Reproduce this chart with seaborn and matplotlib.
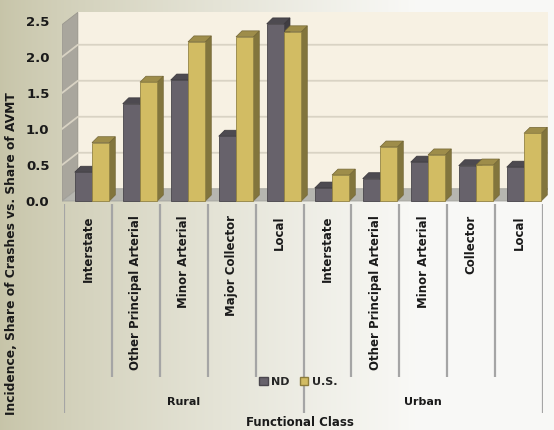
import numpy as np
import pandas as pd
import matplotlib
matplotlib.use("Agg")
import matplotlib.pyplot as plt
import seaborn as sns
from matplotlib.patches import Polygon, Patch

# data
classes = ["Interstate", "Other Principal Arterial", "Minor Arterial", "Major Collector", "Local",
           "Interstate", "Other Principal Arterial", "Minor Arterial", "Collector", "Local"]
areas = ["Rural"] * 5 + ["Urban"] * 5
nd_values = [0.40, 1.35, 1.68, 0.90, 2.46, 0.18, 0.31, 0.54, 0.49, 0.47]
us_values = [0.81, 1.65, 2.21, 2.28, 2.35, 0.36, 0.75, 0.64, 0.50, 0.94]
series = ["ND", "U.S."]
y_ticks = [0.0, 0.5, 1.0, 1.5, 2.0, 2.5]

slots = [f"{a} {c}" for a, c in zip(areas, classes)]
df = pd.DataFrame({
    "slot": slots * 2,
    "series": ["ND"] * 10 + ["U.S."] * 10,
    "value": nd_values + us_values,
})

sns.set_style("white")
plt.rcParams["font.family"] = ["DejaVu Sans"]
plt.rcParams["font.weight"] = "bold"

front = {"ND": "#67626b", "U.S.": "#d2bc63"}
edge = {"ND": "#4a464d", "U.S.": "#8c7c3c"}
txt = "#1a1a1a"

W, H = 554, 430
fig = plt.figure(figsize=(W / 100, H / 100), dpi=100)

# background gradient
bg = fig.add_axes([0, 0, 1, 1], zorder=-5)
xs = np.linspace(0, 1, 400)
t = np.clip(xs / 0.75, 0, 1) ** 0.8
left_c = np.array([0.78, 0.77, 0.66])
right_c = np.array([0.975, 0.975, 0.965])
grad = left_c[None, :] * (1 - t[:, None]) + right_c[None, :] * t[:, None]
bg.imshow(grad[None, :, :], aspect="auto", extent=[0, 1, 0, 1])
bg.axis("off")

# main plot area
ylo, yhi = -0.04, 2.62
xl, xr = -0.625, 9.5
ax = fig.add_axes([62 / W, (H - 201 - 0.04 * 72) / H, 486 / W, (yhi - ylo) * 72 / H])
ax.patch.set_alpha(0)

sns.barplot(data=df, x="slot", y="value", hue="series", order=slots, hue_order=series,
            palette=front, width=0.72, saturation=1, linewidth=0.6,
            legend=False, ax=ax, zorder=3)

# fake 3d depth on each bar
dx, dy = 0.125, 0.083
for p in list(ax.patches):
    x0, w, h = p.get_x(), p.get_width(), p.get_height()
    fc = np.array(p.get_facecolor()[:3])
    p.set_edgecolor(fc * 0.7)
    side = Polygon([(x0 + w, 0), (x0 + w + dx, dy), (x0 + w + dx, h + dy), (x0 + w, h)],
                   closed=True, fc=fc * 0.62, ec=fc * 0.55, lw=0.5, zorder=2.9)
    top = Polygon([(x0, h), (x0 + dx, h + dy), (x0 + w + dx, h + dy), (x0 + w, h)],
                  closed=True, fc=fc * 0.75, ec=fc * 0.55, lw=0.5, zorder=2.9)
    ax.add_patch(side)
    ax.add_patch(top)

# walls and floor
dxw, dyw = 0.33, 0.17
ax.add_patch(Polygon([(xl + dxw, dyw), (xr, dyw), (xr, yhi), (xl + dxw, yhi)],
                     fc="#f7f1e3", ec="none", zorder=0.5))
ax.add_patch(Polygon([(xl, 0), (xl + dxw, dyw), (xl + dxw, yhi), (xl, yhi - dyw)],
                     fc="#a9a69d", ec="#9a978e", lw=0.6, zorder=0.6))
ax.add_patch(Polygon([(xl, 0), (xr - dxw, 0), (xr, dyw), (xl + dxw, dyw)],
                     fc="#b6b6b0", ec="#a3a39d", lw=0.6, zorder=0.7))
for v in y_ticks[1:5]:
    ax.plot([xl, xl + dxw, xr], [v, v + dyw, v + dyw], color="#d9d3c4", lw=1.3, zorder=0.8)

ax.set_xlim(xl, xr)
ax.set_ylim(ylo, yhi)
ax.set_xticks([])
ax.set_xlabel("")
ax.set_ylabel("")
ax.set_yticks(y_ticks)
ax.set_yticklabels([f"{v:.1f}" for v in y_ticks], fontsize=9.5, fontweight="bold", color=txt)
ax.tick_params(axis="y", length=0, pad=9)
for s in ax.spines.values():
    s.set_visible(False)

# category label grid
ax2 = fig.add_axes([64 / W, (H - 413) / H, 479 / W, (413 - 204) / H])
ax2.set_xlim(0, 10)
ax2.set_ylim(413, 204)
ax2.axis("off")
for i in range(11):
    bottom = 413 if i in (0, 5, 10) else 377
    ax2.plot([i, i], [204, bottom], color="#a5a5a5", lw=1.6, solid_capstyle="butt")
for i, c in enumerate(classes):
    ax2.text(i + 0.5, 215, c, rotation=90, ha="center", va="top", fontsize=8.5,
             fontweight="bold", color=txt)
ax2.text(2.5, 402, "Rural", ha="center", va="center", fontsize=8, fontweight="bold", color=txt)
ax2.text(7.5, 402, "Urban", ha="center", va="center", fontsize=8, fontweight="bold", color=txt)

handles = [Patch(facecolor=front[s], edgecolor=edge[s], label=s) for s in series]
fig.legend(handles=handles, loc="center", bbox_to_anchor=(298 / W, 1 - 382 / H), ncol=2,
           frameon=False, handlelength=0.8, handleheight=0.8, columnspacing=0.9,
           handletextpad=0.3, prop={"size": 8, "weight": "bold"})

fig.text(300 / W, 1 - 422 / H, "Functional Class", ha="center", va="center",
         fontsize=8.5, fontweight="bold", color=txt)
fig.text(12 / W, 1 - 254 / H, "Incidence, Share of Crashes vs. Share of AVMT", rotation=90,
         ha="center", va="center", fontsize=8.8, fontweight="bold", color=txt)

fig.savefig("out.png", dpi=100)
